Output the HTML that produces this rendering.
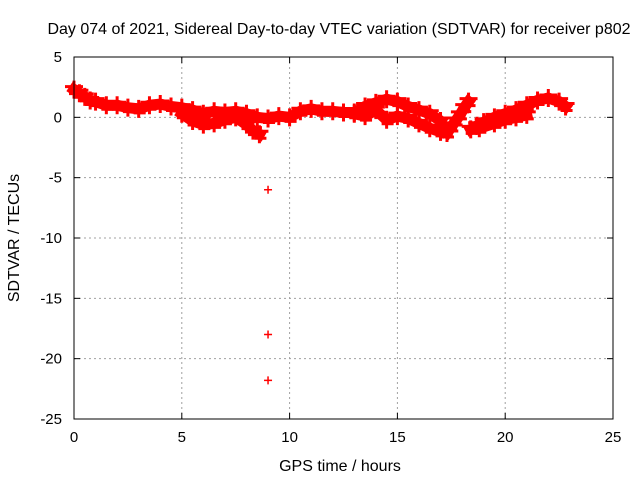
<!DOCTYPE html>
<html><head><meta charset="utf-8"><style>
body{margin:0;background:#fff}
svg text{font-family:"Liberation Sans",Arial,sans-serif;font-size:15px;fill:#000}
svg text.big{font-size:16px}
</style></head><body>
<svg id="chart" width="640" height="480">
<text class="big" x="339" y="34" text-anchor="middle">Day 074 of 2021, Sidereal Day-to-day VTEC variation (SDTVAR) for receiver p802</text>
<text class="big" x="340" y="471" text-anchor="middle">GPS time / hours</text>
<text class="big" transform="translate(19,238) rotate(-90)" text-anchor="middle">SDTVAR / TECUs</text>
<g id="grid"></g><g id="marks"></g><g id="axes"></g>
</svg>
<script>
const xTicks=[0,5,10,15,20,25];
const yTicks=[5,0,-5,-10,-15,-20,-25];
const upperHours=[0,0.25,0.5,0.75,1,1.5,2,2.5,3,3.5,4,4.5,5,5.5,6,6.5,7,7.5,8,8.5,9,9.5,10,10.5,11,11.5,12,12.5,13,13.5,14,14.5,15,15.5,16,16.5,17];
const upperVals=[2.3,2.0,1.7,1.4,1.3,1.0,1.0,0.8,0.7,1.0,1.1,0.9,0.8,0.6,0.3,0.5,0.4,0.5,0.3,0.0,-0.1,0.1,0.0,0.5,0.7,0.5,0.5,0.4,0.4,0.9,1.2,1.5,1.3,0.9,0.6,0.3,-0.3];
const lowerHours=[5,5.5,6,6.5,7,7.5,8,8.3,8.6,13,13.5,14,14.5,15,15.5,16,16.5,17];
const lowerVals=[0.3,-0.3,-0.6,-0.5,-0.2,0.0,-0.6,-1.1,-1.4,0.3,0.1,0.6,-0.2,0.1,-0.1,-0.5,-0.9,-1.2];
const midHours=[17.3,17.5,17.7,17.9,18.1,18.3];
const midVals=[-1.3,-0.8,-0.3,0.2,0.8,1.3];
const lateHours=[18.4,18.7,19,19.5,20,20.5,21,21.5,22,22.5,22.8];
const lateVals=[-1.0,-0.7,-0.4,0.0,0.3,0.6,1.0,1.4,1.6,1.3,0.9];
const late2Hours=[18.8,19.5,20,20.5,21];
const late2Vals=[-0.9,-0.5,-0.2,0.0,0.2];
const outlierHours=[9,9,9,17.2,17.2,17.2];
const outlierVals=[-6,-18,-21.8,-0.4,-0.8,-1.2];
const X0=74,X1=613,Y0=57,Y1=419;
const xs=h=>X0+(h-0)/(25-0)*(X1-X0);
const ys=v=>Y0+(5-v)/(5-(-25))*(Y1-Y0);
const NS='http://www.w3.org/2000/svg';
function mk(t,a,p){const e=document.createElementNS(NS,t);for(const k in a)e.setAttribute(k,a[k]);p.appendChild(e);return e;}
const grid=document.getElementById('grid'),axes=document.getElementById('axes'),marks=document.getElementById('marks');
xTicks.forEach(t=>{const x=xs(t);
 if(t>0&&t<25){const l=mk('line',{x1:x,y1:Y0,x2:x,y2:Y1,stroke:'#a0a0a0','stroke-dasharray':'2,3'},grid);
 
 }
 mk('line',{x1:x,y1:Y1,x2:x,y2:Y1-6,stroke:'#000'},axes);mk('line',{x1:x,y1:Y0,x2:x,y2:Y0+6,stroke:'#000'},axes);
 const tx=mk('text',{x:x,y:Y1+23,'text-anchor':'middle'},axes);tx.textContent=t;
 
 });
yTicks.forEach(t=>{const y=ys(t);
 if(t<5&&t>-25){const l=mk('line',{x1:X0,y1:y,x2:X1,y2:y,stroke:'#a0a0a0','stroke-dasharray':'2,3'},grid);
 
 }
 mk('line',{x1:X0,y1:y,x2:X0+6,y2:y,stroke:'#000'},axes);mk('line',{x1:X1,y1:y,x2:X1-6,y2:y,stroke:'#000'},axes);
 const tx=mk('text',{x:X0-12,y:y+5,'text-anchor':'end'},axes);tx.textContent=t;
 
 });
const fr=mk('rect',{x:X0,y:Y0,width:X1-X0,height:Y1-Y0,fill:'none',stroke:'#000'},axes);


function track(H,V,name){
 const pl=mk('polyline',{points:H.map((h,i)=>xs(h)+','+ys(V[i])).join(' '),fill:'none',stroke:'#f00','stroke-width':11,'stroke-linejoin':'round','stroke-linecap':'square'},marks);
 
 
 H.forEach((h,i)=>{const x=xs(h),y=ys(V[i]);
  const p=mk('path',{d:`M${x-9},${y-3}H${x+9}M${x-5},${y+4}H${x+7}M${x},${y-9}V${y+9}`,stroke:'#f00','stroke-width':3},marks);
  
  });
}
function cross(h,v,name){const x=xs(h),y=ys(v);
 const p=mk('path',{d:`M${x-4},${y}H${x+4}M${x},${y-4}V${y+4}`,stroke:'#f00','stroke-width':1.5},marks);
 
 }
track(upperHours,upperVals,'upper-track');
track(lowerHours.slice(0,9),lowerVals.slice(0,9),'lower-track-a');
track(lowerHours.slice(9),lowerVals.slice(9),'lower-track-b');
track(midHours,midVals,'mid-track');
track(lateHours,lateVals,'late-track');
track(late2Hours,late2Vals,'late-lower-track');
outlierHours.forEach((h,i)=>cross(h,outlierVals[i],'outlier-point'));
</script>
</body></html>
